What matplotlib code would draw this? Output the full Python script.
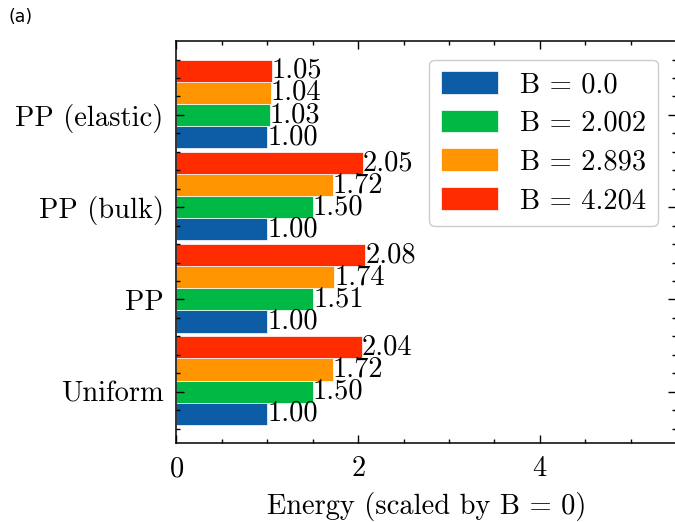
import numpy as np
import matplotlib
matplotlib.use("Agg")
import matplotlib.pyplot as plt
from matplotlib.ticker import MultipleLocator


# Data
categories = ["Uniform", "PP", "PP (bulk)", "PP (elastic)"]
b_labels = ["B = 0.0", "B = 2.002", "B = 2.893", "B = 4.204"]
b0_vals = [1.00, 1.00, 1.00, 1.00]
b2002_vals = [1.50, 1.51, 1.50, 1.03]
b2893_vals = [1.72, 1.74, 1.72, 1.04]
b4204_vals = [2.04, 2.08, 2.05, 1.05]
colors = ["#0C5DA5", "#00B945", "#FF9500", "#FF2C00"]

plt.rcParams["font.family"] = "serif"
plt.rcParams["font.serif"] = ["cmr10"]
plt.rcParams["mathtext.fontset"] = "cm"
plt.rcParams["axes.formatter.use_mathtext"] = True
plt.rcParams["axes.unicode_minus"] = False

fs = 20.5

fig = plt.figure(figsize=(6.75, 5.22), dpi=100)
ax = fig.add_axes([0.261, 0.151, 0.741, 0.770])

y = np.arange(len(categories))
width = 0.24
series = [b0_vals, b2002_vals, b2893_vals, b4204_vals]
for i, vals in enumerate(series):
    pos = y + (i - 1) * width
    ax.barh(pos, vals, height=width, color=colors[i], label=b_labels[i],
            edgecolor="white", linewidth=0.5)
    # value labels at the end of each bar
    for p, v in zip(pos, vals):
        ax.text(v, p, "%.2f" % v, ha="left", va="center", fontsize=fs)

ax.set_yticks(y)
ax.set_yticklabels(categories, fontsize=fs)
ax.set_xlim(0, 5.5)
ax.set_xticks([0, 2, 4])
ax.xaxis.set_minor_locator(MultipleLocator(0.5))
ax.yaxis.set_minor_locator(MultipleLocator(0.2))
ax.tick_params(axis="x", labelsize=fs)
ax.tick_params(which="both", direction="in", top=True, right=True, width=1.0)
ax.tick_params(which="major", length=5.5, pad=9)
ax.tick_params(which="minor", length=3)
for s in ax.spines.values():
    s.set_linewidth(1.1)

ax.set_xlabel("Energy (scaled by B = 0)", fontsize=fs, labelpad=7)

leg = ax.legend(loc="upper right", fontsize=fs, frameon=True, fancybox=True,
                edgecolor="#cccccc", framealpha=1, handlelength=2.0,
                handleheight=0.85, labelspacing=0.4, borderaxespad=0.65)

fig.text(0.012, 0.967, "(a)", fontsize=12.5, family="DejaVu Sans", va="center")

fig.savefig("out.png", dpi=100)
